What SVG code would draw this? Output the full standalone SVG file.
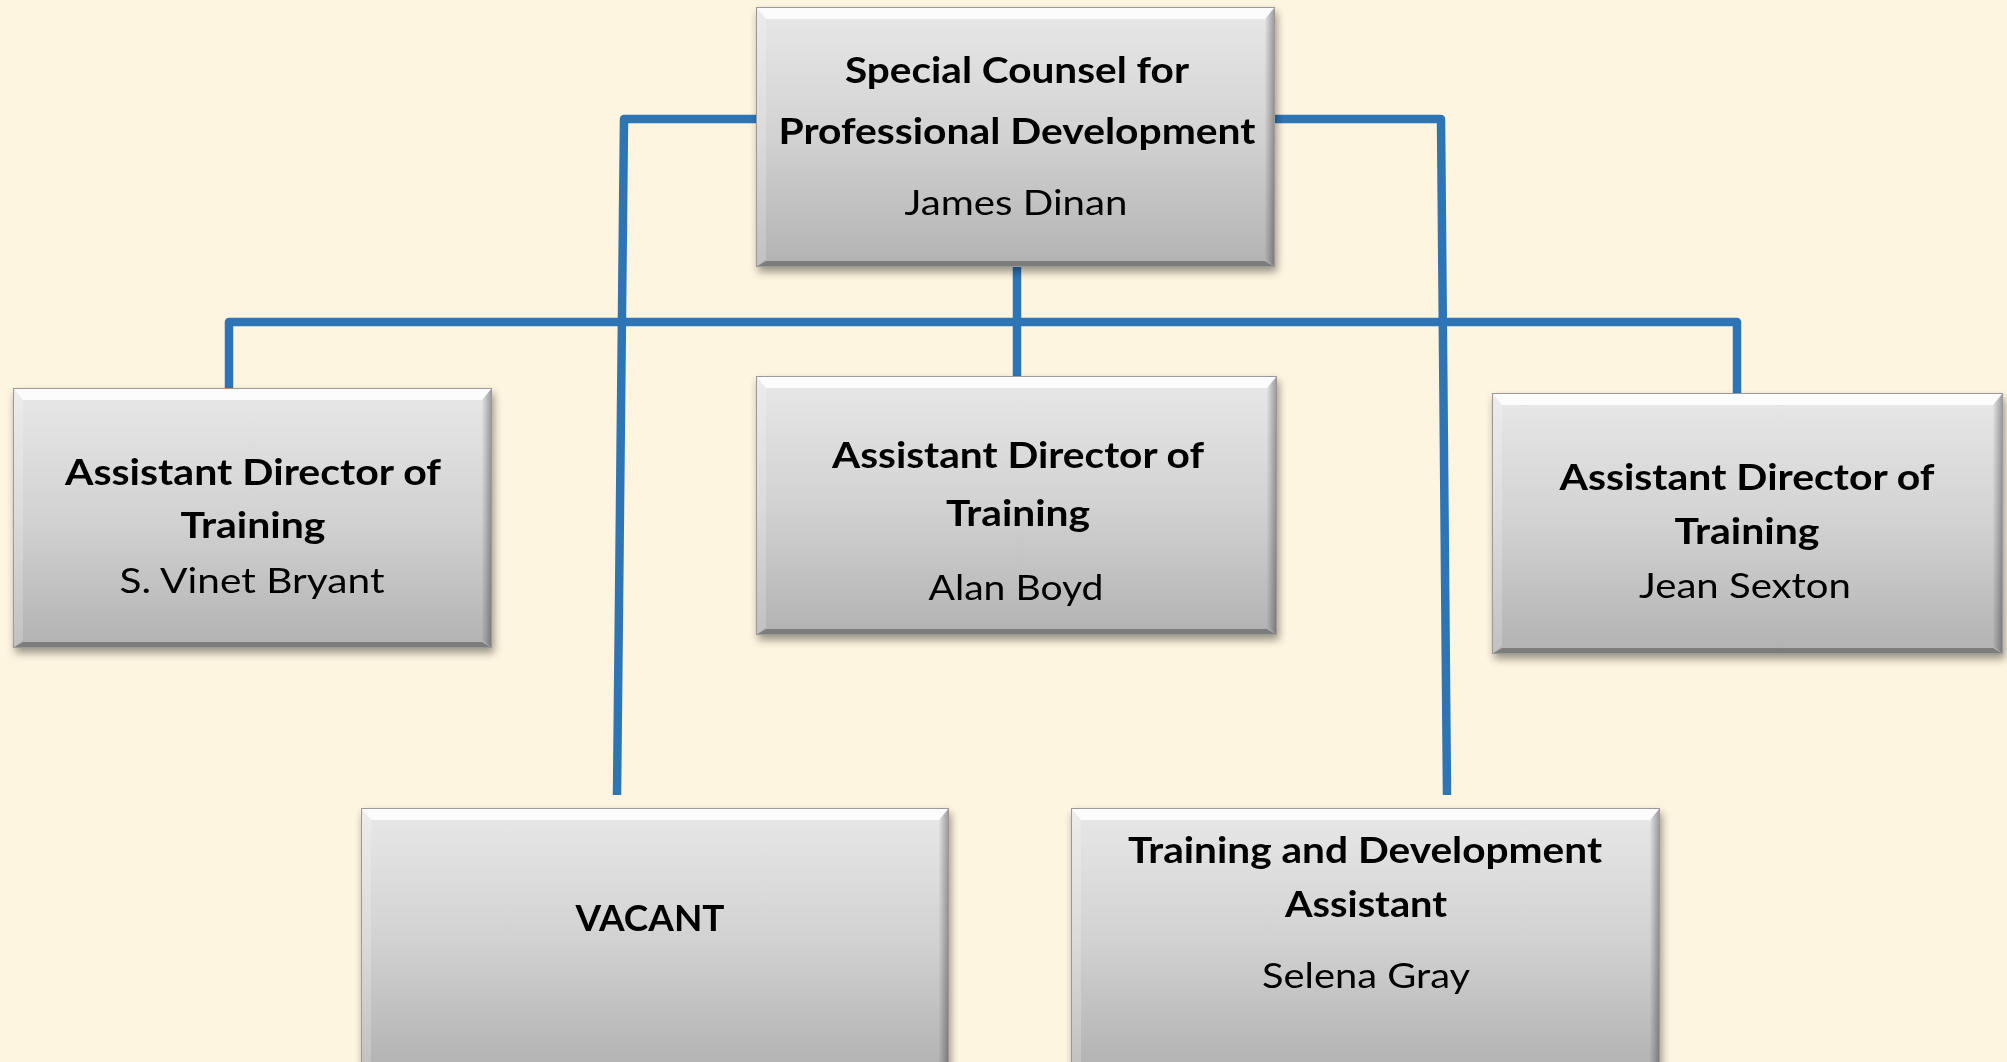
<svg xmlns="http://www.w3.org/2000/svg" width="2007" height="1062" viewBox="0 0 2007 1062">
<defs>
<linearGradient id="boxg" x1="0" y1="0" x2="0" y2="1">
<stop offset="0" stop-color="#E8E8E8"/>
<stop offset="0.5" stop-color="#D2D2D2"/>
<stop offset="1" stop-color="#B2B2B2"/>
</linearGradient>
<linearGradient id="rightg" x1="0" y1="0" x2="1" y2="0">
<stop offset="0" stop-color="#000" stop-opacity="0.02"/>
<stop offset="1" stop-color="#000" stop-opacity="0.35"/>
</linearGradient>
<filter id="shadow" x="-5%" y="-5%" width="115%" height="120%">
<feGaussianBlur in="SourceAlpha" stdDeviation="4"/>
<feOffset dx="2" dy="5" result="b"/>
<feComponentTransfer><feFuncA type="linear" slope="0.4"/></feComponentTransfer>
<feMerge><feMergeNode/><feMergeNode in="SourceGraphic"/></feMerge>
</filter>
</defs>
<style>
.conn{fill:none;stroke:#2E75B6;stroke-width:8.5;stroke-linejoin:round;stroke-linecap:butt}
.box{fill:url(#boxg)}
.bt{fill:#FFFFFF;fill-opacity:0.85}
.bl{fill:#FFFFFF;fill-opacity:0.2}
.br{fill:url(#rightg)}
.bb{fill:#000;fill-opacity:0.3}
.edge{fill:none;stroke:#9A9A9A;stroke-width:1}
text{font-family:Lato,"Open Sans","Liberation Sans",sans-serif;fill:#000;text-anchor:middle}
.t{font-weight:bold;font-size:36px}
.n{font-size:35px}
</style>
<rect x="0" y="0" width="2007" height="1062" fill="#FEF5E0"/>

<g id="connectors">
<path class="conn" d="M1017 267 V376"/>
<path class="conn" d="M229 390 V322 H1737 V394"/>
<path class="conn" d="M758 119 H624 L617 795"/>
<path class="conn" d="M1275 119 H1441 L1447 795"/>
</g>

<g id="node-top" filter="url(#shadow)">
<rect class="box" x="756" y="7" width="519" height="260"/>
<polygon class="bt" points="756,7 1275,7 1265,19 766,19"/>
<polygon class="bl" points="756,7 766,19 766,259 756,267"/>
<polygon class="br" points="1275,7 1275,267 1265,259 1265,19"/>
<polygon class="bb" points="756,267 1275,267 1265,261 766,261"/>
<rect class="edge" x="756.5" y="7.5" width="518" height="259"/>
<text class="t" x="1017" y="83" textLength="344" lengthAdjust="spacingAndGlyphs">Special Counsel for</text>
<text class="t" x="1017" y="144" textLength="477" lengthAdjust="spacingAndGlyphs">Professional Development</text>
<text class="n" x="1016" y="215" textLength="223" lengthAdjust="spacingAndGlyphs">James Dinan</text>
</g>

<g id="node-bryant" filter="url(#shadow)">
<rect class="box" x="13" y="388" width="479" height="260"/>
<polygon class="bt" points="13,388 492,388 482,400 23,400"/>
<polygon class="bl" points="13,388 23,400 23,640 13,648"/>
<polygon class="br" points="492,388 492,648 482,640 482,400"/>
<polygon class="bb" points="13,648 492,648 482,642 23,642"/>
<rect class="edge" x="13.5" y="388.5" width="478" height="259"/>
<text class="t" x="253" y="485" textLength="376" lengthAdjust="spacingAndGlyphs">Assistant Director of</text>
<text class="t" x="253" y="538" textLength="145" lengthAdjust="spacingAndGlyphs">Training</text>
<text class="n" x="252" y="593" textLength="265" lengthAdjust="spacingAndGlyphs">S. Vinet Bryant</text>
</g>

<g id="node-boyd" filter="url(#shadow)">
<rect class="box" x="756" y="376" width="521" height="259"/>
<polygon class="bt" points="756,376 1277,376 1267,388 766,388"/>
<polygon class="bl" points="756,376 766,388 766,627 756,635"/>
<polygon class="br" points="1277,376 1277,635 1267,627 1267,388"/>
<polygon class="bb" points="756,635 1277,635 1267,629 766,629"/>
<rect class="edge" x="756.5" y="376.5" width="520" height="258"/>
<text class="t" x="1018" y="468" textLength="372" lengthAdjust="spacingAndGlyphs">Assistant Director of</text>
<text class="t" x="1018" y="526" textLength="144" lengthAdjust="spacingAndGlyphs">Training</text>
<text class="n" x="1016" y="600" textLength="175" lengthAdjust="spacingAndGlyphs">Alan Boyd</text>
</g>

<g id="node-sexton" filter="url(#shadow)">
<rect class="box" x="1492" y="393" width="511" height="261"/>
<polygon class="bt" points="1492,393 2003,393 1993,405 1502,405"/>
<polygon class="bl" points="1492,393 1502,405 1502,646 1492,654"/>
<polygon class="br" points="2003,393 2003,654 1993,646 1993,405"/>
<polygon class="bb" points="1492,654 2003,654 1993,648 1502,648"/>
<rect class="edge" x="1492.5" y="393.5" width="510" height="260"/>
<text class="t" x="1747" y="490" textLength="375" lengthAdjust="spacingAndGlyphs">Assistant Director of</text>
<text class="t" x="1747" y="544" textLength="145" lengthAdjust="spacingAndGlyphs">Training</text>
<text class="n" x="1745" y="598" textLength="212" lengthAdjust="spacingAndGlyphs">Jean Sexton</text>
</g>

<g id="node-vacant" filter="url(#shadow)">
<rect class="box" x="361" y="808" width="588" height="262"/>
<polygon class="bt" points="361,808 949,808 939,820 371,820"/>
<polygon class="bl" points="361,808 371,820 371,1062 361,1070"/>
<polygon class="br" points="949,808 949,1070 939,1062 939,820"/>
<rect class="edge" x="361.5" y="808.5" width="587" height="261"/>
<text class="t" x="650" y="931" textLength="149" lengthAdjust="spacingAndGlyphs">VACANT</text>
</g>

<g id="node-gray" filter="url(#shadow)">
<rect class="box" x="1071" y="808" width="589" height="262"/>
<polygon class="bt" points="1071,808 1660,808 1650,820 1081,820"/>
<polygon class="bl" points="1071,808 1081,820 1081,1062 1071,1070"/>
<polygon class="br" points="1660,808 1660,1070 1650,1062 1650,820"/>
<rect class="edge" x="1071.5" y="808.5" width="588" height="261"/>
<text class="t" x="1365" y="863" textLength="474" lengthAdjust="spacingAndGlyphs">Training and Development</text>
<text class="t" x="1366" y="917" textLength="162" lengthAdjust="spacingAndGlyphs">Assistant</text>
<text class="n" x="1366" y="988" textLength="208" lengthAdjust="spacingAndGlyphs">Selena Gray</text>
</g>
</svg>
